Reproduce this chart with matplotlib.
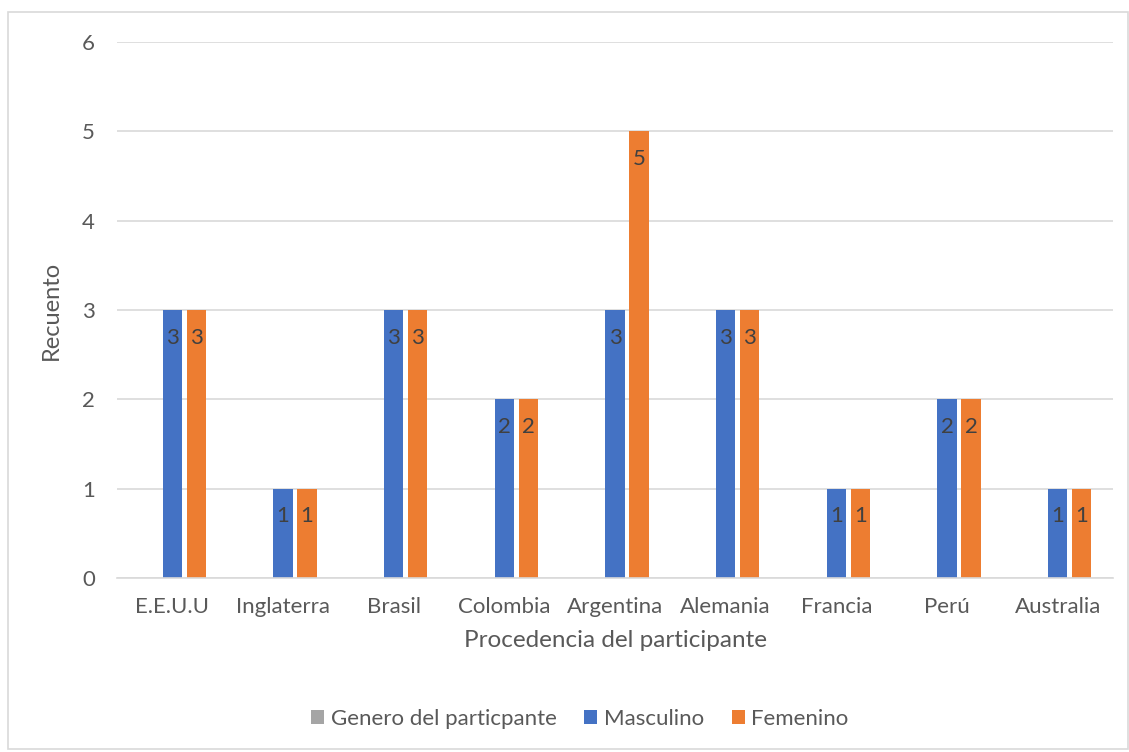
import numpy as np
import matplotlib.pyplot as plt
from matplotlib.patches import Rectangle

paises = ["E.E.U.U", "Inglaterra", "Brasil", "Colombia", "Argentina",
          "Alemania", "Francia", "Perú", "Australia"]
genero = [0, 0, 0, 0, 0, 0, 0, 0, 0]
masculino = [3, 1, 3, 2, 3, 3, 1, 2, 1]
femenino = [3, 1, 3, 2, 5, 3, 1, 2, 1]

plt.rcParams['font.family'] = ['Lato', 'DejaVu Sans']
txt = '#595959'

fig = plt.figure(figsize=(11.29, 7.52), dpi=100)
ax = fig.add_axes([117/1129, 1-578/752, 996/1129, 536/752])

# chart border
fig.patches.append(Rectangle((8/1129, 1-749/752), 1120/1129, 737/752,
                             transform=fig.transFigure, fill=False,
                             edgecolor='#d9d9d9', linewidth=1.2))

x = np.arange(len(paises))
slot = 0.217
w = 0.172
ax.bar(x - slot, genero, w, color='#a5a5a5', label='Genero del particpante')
b1 = ax.bar(x, masculino, w, color='#4472c4', label='Masculino')
b2 = ax.bar(x + slot, femenino, w, color='#ed7d31', label='Femenino')

for bars, vals in ((b1, masculino), (b2, femenino)):
    for r, v in zip(bars, vals):
        ax.text(r.get_x() + r.get_width()/2, v - 0.31, str(v), ha='center',
                va='center', fontsize=16, color='#404040')

ax.set_xlim(-0.5, len(paises) - 0.5)
ax.set_ylim(0, 6)
ax.set_yticks(range(7))
ax.yaxis.grid(True, color='#d9d9d9', linewidth=1.2)
ax.set_axisbelow(True)
for s in ['top', 'right', 'left']:
    ax.spines[s].set_visible(False)
ax.spines['bottom'].set_color('#d9d9d9')
ax.spines['bottom'].set_linewidth(1.2)
ax.set_xticks(x)
ax.set_xticklabels(paises)
ax.tick_params(axis='both', length=0, labelsize=16, colors=txt)
ax.tick_params(axis='x', pad=14)
ax.tick_params(axis='y', pad=16)

ax.set_ylabel('Recuento', fontsize=17, color=txt, labelpad=14)
ax.set_xlabel('Procedencia del participante', fontsize=17.5, color=txt, labelpad=9)

fig.legend(loc='center', bbox_to_anchor=(580/1129, 1-719/752), ncol=3, frameon=False,
           fontsize=16, labelcolor=txt, handlelength=0.58, handleheight=0.58,
           handletextpad=0.3, columnspacing=1.25)

fig.savefig('out.png', dpi=100)
